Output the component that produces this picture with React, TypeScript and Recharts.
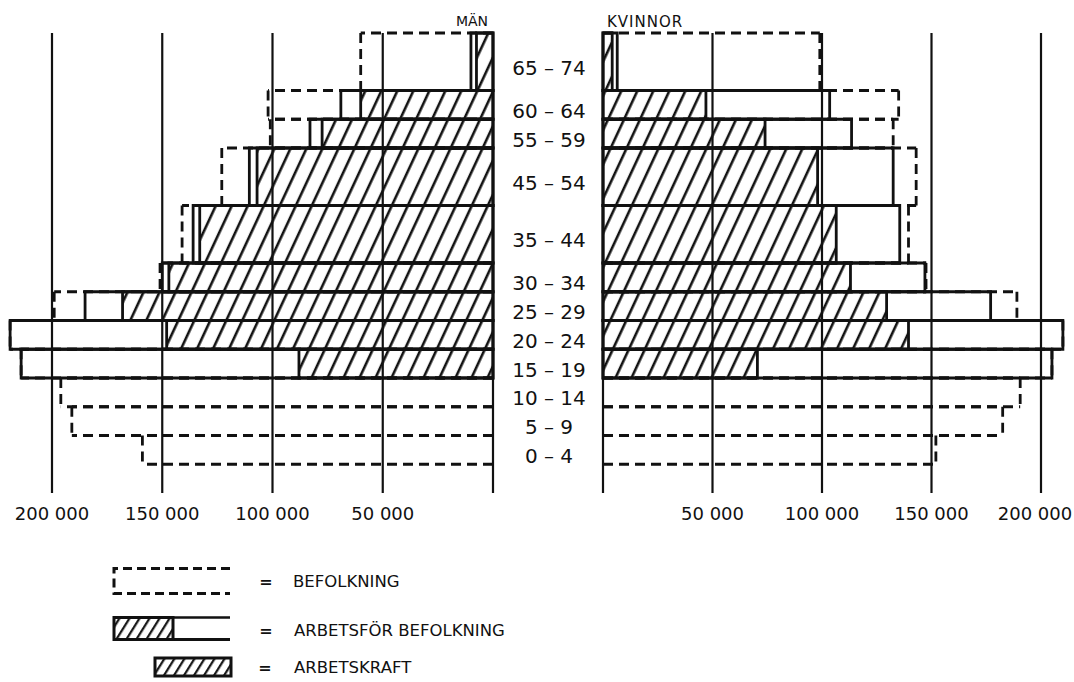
import React from "react";
import {
  ComposedChart,
  XAxis,
  YAxis,
  CartesianGrid,
  ReferenceArea,
} from "recharts";

// age groups, bottom to top
const ageGroups = [
  "0 – 4",
  "5 – 9",
  "10 – 14",
  "15 – 19",
  "20 – 24",
  "25 – 29",
  "30 – 34",
  "35 – 44",
  "45 – 54",
  "55 – 59",
  "60 – 64",
  "65 – 74",
];
const ageFrom = [0, 5, 10, 15, 20, 25, 30, 35, 45, 55, 60, 65];
const ageTo = [5, 10, 15, 20, 25, 30, 35, 45, 55, 60, 65, 75];

// MÄN
const menBefolkning = [159000, 191000, 196000, 214000, 219000, 199000, 151000, 141000, 123000, 101000, 102000, 60000];
const menArbetsfor = [null, null, null, 214000, 219000, 185000, 150000, 136000, 110500, 83000, 69000, 10000];
const menArbetskraft = [null, null, null, 88000, 148000, 168000, 147000, 133000, 107000, 77500, 60000, 7500];

// KVINNOR
const womenBefolkning = [152000, 182500, 190500, 205000, 210000, 189000, 147500, 139500, 143000, 132500, 135000, 99000];
const womenArbetsfor = [null, null, null, 205000, 210000, 177000, 147000, 135500, 132500, 113500, 103500, 6500];
const womenArbetskraft = [null, null, null, 70500, 139500, 129500, 113000, 106500, 98000, 74000, 47000, 4200];

const xTicks = [0, 50000, 100000, 150000, 200000];
const ageMid = ageGroups.map((_, i) => (ageFrom[i] + ageTo[i]) / 2);

const FONT = "'DejaVu Sans', sans-serif";
const INK = "#111";

type Row = {
  group: string;
  from: number;
  to: number;
  bef: number;
  af: number | null;
  ak: number | null;
};

const toRows = (bef: number[], af: (number | null)[], ak: (number | null)[]): Row[] =>
  ageGroups.map((group, i) => ({
    group,
    from: ageFrom[i],
    to: ageTo[i],
    bef: bef[i],
    af: af[i],
    ak: ak[i],
  }));

const menRows = toRows(menBefolkning, menArbetsfor, menArbetskraft);
const womenRows = toRows(womenBefolkning, womenArbetsfor, womenArbetskraft);

function XTick(props: any) {
  const { x, y, payload, maxX = Infinity } = props;
  if (!payload.value) return null;
  return (
    <text
      x={Math.min(x, maxX)}
      y={y + 20}
      textAnchor="middle"
      dominantBaseline="central"
      fontFamily={FONT}
      fontSize={18}
      fill={INK}
    >
      {`${payload.value / 1000} 000`}
    </text>
  );
}

function AgeTick(props: any) {
  const { x, y, payload } = props;
  const i = ageMid.indexOf(payload.value);
  return (
    <text
      x={x + 56}
      y={y + 6}
      textAnchor="middle"
      dominantBaseline="central"
      fontFamily={FONT}
      fontSize={20}
      fill={INK}
    >
      {ageGroups[i]}
    </text>
  );
}

// befolkning: dashed outline, each edge drawn from the zero side so shared edges line up
const dashedShape = (zeroRight: boolean) => (p: any) => {
  const { x, y, width, height } = p;
  const z = zeroRight ? x + width : x;
  const o = zeroRight ? x : x + width;
  const s = { stroke: INK, strokeWidth: 2.8, strokeDasharray: "10 6", fill: "none" };
  return (
    <g>
      <line x1={z} y1={y} x2={o} y2={y} {...s} />
      <line x1={z} y1={y + height} x2={o} y2={y + height} {...s} />
      <line x1={o} y1={y} x2={o} y2={y + height} {...s} />
    </g>
  );
};

function boxes(rows: Row[], side: string, zeroRight: boolean) {
  const out: React.ReactNode[] = [];
  rows.forEach((r) => {
    out.push(
      <ReferenceArea
        key={`${side}-bef-${r.group}`}
        x1={0}
        x2={r.bef}
        y1={r.from}
        y2={r.to}
        ifOverflow="visible"
        shape={dashedShape(zeroRight)}
      />
    );
  });
  rows.forEach((r) => {
    if (r.af == null) return;
    out.push(
      <ReferenceArea
        key={`${side}-af-${r.group}`}
        x1={0}
        x2={r.af}
        y1={r.from}
        y2={r.to}
        ifOverflow="visible"
        fill="none"
        fillOpacity={1}
        stroke={INK}
        strokeWidth={2.8}
      />
    );
  });
  rows.forEach((r) => {
    if (r.ak == null) return;
    out.push(
      <ReferenceArea
        key={`${side}-ak-${r.group}`}
        x1={0}
        x2={r.ak}
        y1={r.from}
        y2={r.to}
        ifOverflow="visible"
        fill="url(#hatch)"
        fillOpacity={1}
        stroke={INK}
        strokeWidth={2.8}
      />
    );
  });
  return out;
}

export default function App() {
  return (
    <div
      style={{
        position: "absolute",
        left: 0,
        top: 0,
        width: 1074,
        height: 682,
        background: "#fff",
        overflow: "hidden",
      }}
    >
      <svg width={0} height={0} style={{ position: "absolute" }}>
        <defs>
          <pattern
            id="hatch"
            patternUnits="userSpaceOnUse"
            width={14.5}
            height={14.5}
            patternTransform="rotate(25)"
          >
            <line x1={7} y1={-1} x2={7} y2={15.5} stroke={INK} strokeWidth={2.6} />
          </pattern>
          <pattern
            id="hatchLegend"
            patternUnits="userSpaceOnUse"
            width={8.5}
            height={8.5}
            patternTransform="rotate(32)"
          >
            <line x1={4} y1={-1} x2={4} y2={9.5} stroke={INK} strokeWidth={2.2} />
          </pattern>
        </defs>
      </svg>

      {/* MÄN */}
      <div style={{ position: "absolute", left: 0, top: 0 }}>
        <ComposedChart
          width={605}
          height={540}
          data={menRows}
          margin={{ top: 33, right: 0, bottom: 17, left: 52 }}
        >
          <CartesianGrid vertical horizontal={false} stroke={INK} strokeWidth={2.2} />
          <XAxis
            type="number"
            dataKey="bef"
            domain={[0, 200000]}
            allowDataOverflow
            ticks={xTicks}
            reversed
            height={30}
            axisLine={false}
            tickLine={false}
            tickSize={0}
            tickMargin={0}
            tick={<XTick />}
            interval={0}
          />
          <YAxis
            type="number"
            domain={[-5, 75]}
            allowDataOverflow
            ticks={ageMid}
            orientation="right"
            width={112}
            axisLine={false}
            tickLine={false}
            tickSize={0}
            tickMargin={0}
            tick={<AgeTick />}
            interval={0}
          />
          {boxes(menRows, "m", true)}
        </ComposedChart>
      </div>

      {/* KVINNOR */}
      <div style={{ position: "absolute", left: 560, top: 0 }}>
        <ComposedChart
          width={514}
          height={540}
          data={womenRows}
          margin={{ top: 33, right: 33, bottom: 17, left: 43 }}
        >
          <CartesianGrid vertical horizontal={false} stroke={INK} strokeWidth={2.2} />
          <XAxis
            type="number"
            dataKey="bef"
            domain={[0, 200000]}
            allowDataOverflow
            ticks={xTicks}
            height={30}
            axisLine={false}
            tickLine={false}
            tickSize={0}
            tickMargin={0}
            tick={<XTick maxX={475} />}
            interval={0}
          />
          <YAxis type="number" domain={[-5, 75]} allowDataOverflow hide />
          {boxes(womenRows, "w", false)}
        </ComposedChart>
      </div>

      {/* titles and legend */}
      <svg
        width={1074}
        height={682}
        style={{ position: "absolute", left: 0, top: 0, pointerEvents: "none" }}
        fontFamily={FONT}
        fill={INK}
      >
        <text x={472} y={26} textAnchor="middle" fontSize={14}>
          MÄN
        </text>
        <text x={607} y={27} fontSize={15} letterSpacing={1}>
          KVINNOR
        </text>

        <path
          d="M230 568.5 H114 V593.5 H230"
          fill="none"
          stroke={INK}
          strokeWidth={3}
          strokeDasharray="9 5"
        />
        <text x={266} y={581} textAnchor="middle" dominantBaseline="central" fontSize={16} fontWeight="bold">
          =
        </text>
        <text x={293} y={581} dominantBaseline="central" fontSize={16.5}>
          BEFOLKNING
        </text>

        <line x1={114} y1={617.5} x2={230} y2={617.5} stroke={INK} strokeWidth={2.5} />
        <line x1={114} y1={639.5} x2={230} y2={639.5} stroke={INK} strokeWidth={3} />
        <rect x={114} y={617.5} width={59} height={22} fill="url(#hatchLegend)" stroke={INK} strokeWidth={3} />
        <text x={266} y={630} textAnchor="middle" dominantBaseline="central" fontSize={16} fontWeight="bold">
          =
        </text>
        <text x={294} y={630} dominantBaseline="central" fontSize={16.5}>
          ARBETSFÖR BEFOLKNING
        </text>

        <rect x={155} y={658} width={76} height={18} fill="url(#hatchLegend)" stroke={INK} strokeWidth={3} />
        <text x={265} y={667} textAnchor="middle" dominantBaseline="central" fontSize={16} fontWeight="bold">
          =
        </text>
        <text x={294} y={667} dominantBaseline="central" fontSize={16.5}>
          ARBETSKRAFT
        </text>
      </svg>
    </div>
  );
}
